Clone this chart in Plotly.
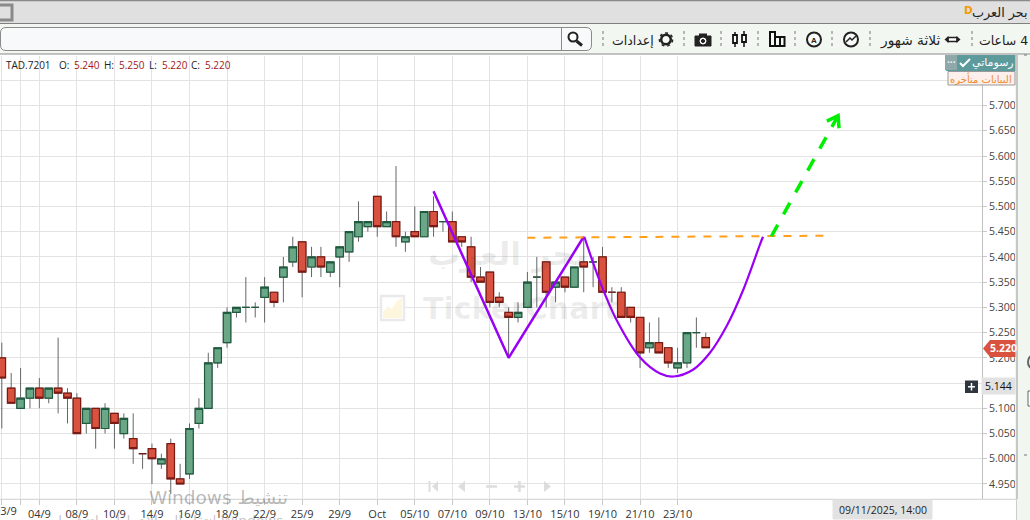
import plotly.graph_objects as go

# ---- data ----
opens = [5.20,5.14,5.10,5.12,5.14,5.12,5.14,5.13,5.12,5.07,5.10,5.06,5.09,5.05,5.04,5.01,5.02,4.99,5.03,4.96,
         4.97,5.07,5.10,5.19,5.23,5.29,5.30,5.30,5.32,5.33,5.36,5.39,5.43,5.38,5.40,5.37,5.40,5.41,5.44,5.46,
         5.52,5.46,5.47,5.43,5.45,5.44,5.49,5.47,5.47,5.44,5.42,5.36,5.37,5.32,5.29,5.28,5.30,5.36,5.39,5.34,
         5.36,5.34,5.39,5.39,5.40,5.33,5.33,5.30,5.28,5.22,5.23,5.22,5.18,5.19,5.25,5.24]
highs = [5.23,5.17,5.18,5.14,5.16,5.14,5.24,5.14,5.13,5.10,5.10,5.11,5.09,5.09,5.09,5.01,5.03,5.01,5.04,4.99,
         5.07,5.12,5.21,5.22,5.30,5.30,5.36,5.31,5.36,5.33,5.40,5.44,5.43,5.42,5.42,5.39,5.42,5.45,5.51,5.47,
         5.52,5.49,5.58,5.45,5.50,5.49,5.52,5.47,5.49,5.44,5.44,5.38,5.37,5.33,5.30,5.31,5.37,5.40,5.39,5.35,
         5.36,5.38,5.44,5.40,5.42,5.34,5.34,5.30,5.28,5.27,5.28,5.22,5.22,5.25,5.28,5.25]
lows = [5.06,5.11,5.10,5.10,5.10,5.11,5.09,5.07,5.05,5.05,5.02,5.05,5.02,5.04,4.99,4.98,4.95,4.98,4.93,4.95,
        4.96,5.06,5.10,5.18,5.22,5.28,5.27,5.28,5.27,5.30,5.31,5.38,5.32,5.36,5.36,5.36,5.34,5.39,5.43,5.45,
        5.44,5.46,5.42,5.41,5.44,5.44,5.44,5.45,5.43,5.42,5.35,5.35,5.30,5.30,5.20,5.27,5.30,5.30,5.30,5.31,
        5.33,5.34,5.33,5.34,5.33,5.31,5.28,5.27,5.18,5.21,5.21,5.18,5.17,5.18,5.22,5.22]
closes = [5.16,5.11,5.12,5.14,5.12,5.14,5.13,5.12,5.05,5.10,5.06,5.10,5.07,5.08,5.02,5.01,5.00,5.00,4.96,4.95,
          5.06,5.10,5.19,5.22,5.29,5.30,5.30,5.30,5.34,5.31,5.38,5.42,5.37,5.40,5.38,5.39,5.42,5.45,5.47,5.47,
          5.46,5.47,5.44,5.44,5.44,5.49,5.46,5.47,5.43,5.43,5.36,5.35,5.31,5.31,5.28,5.29,5.35,5.36,5.33,5.35,
          5.34,5.38,5.38,5.39,5.33,5.33,5.28,5.28,5.21,5.23,5.21,5.19,5.19,5.25,5.25,5.22]
bar_index = list(range(len(opens)))

tick_index = [0,2,4,8,12,16,20,24,28,32,36,40,44,48,52,56,60,64,68,72]
tick_labels = ["","","04/9","08/9","10/9","14/9","16/9","18/9","22/9","25/9","29/9","Oct",
               "05/10","07/10","09/10","13/10","15/10","19/10","21/10","23/10"]
price_ticks = [4.95,5.00,5.05,5.10,5.15,5.20,5.25,5.30,5.35,5.40,5.45,5.50,5.55,5.60,5.65,5.70,5.75]

v_x = [46,54,62]
v_y = [5.53,5.20,5.44]
cup_x = [62.06,63.73,65.5,68.03,70.13,71.55,73.68,75.45,77.23,79.0,80.8,81.1]
cup_y = [5.44,5.351,5.275,5.20,5.169,5.163,5.177,5.21,5.263,5.335,5.426,5.44]
neck_x = [56,87.7]
neck_y = [5.438,5.442]
target_x = [82,89.1]
target_y = [5.441,5.68]
head_x = [87.9,89.1,89.2]
head_y = [5.669,5.68,5.655]

# ---- styling ----
GREEN_F, GREEN_L = "#6aa786", "#1f5a3f"
RED_F, RED_L = "#d9523f", "#7a1a12"
PL, PR, PT, PB = 0, 982, 56, 499
FONT = "Open Sans"
ARF = "DejaVu Sans"

def px(x): return (x - PL) / (PR - PL)
def py(y): return (PB - y) / (PB - PT)

shapes, notes = [], []

def rect(x0, y0, x1, y1, fill="rgba(0,0,0,0)", line=None, w=1):
    shapes.append(dict(type="rect", xref="paper", yref="paper", x0=px(x0), x1=px(x1), y0=py(y0), y1=py(y1),
                       fillcolor=fill, line=dict(color=line or "rgba(0,0,0,0)", width=w if line else 0)))

def seg(x0, y0, x1, y1, color, w=1, dash="solid"):
    shapes.append(dict(type="line", xref="paper", yref="paper", x0=px(x0), x1=px(x1), y0=py(y0), y1=py(y1),
                       line=dict(color=color, width=w, dash=dash)))

def circ(cx, cy, r, fill="rgba(0,0,0,0)", line="#222", w=2, dash="solid"):
    shapes.append(dict(type="circle", xref="paper", yref="paper", x0=px(cx-r), x1=px(cx+r), y0=py(cy+r), y1=py(cy-r),
                       fillcolor=fill, line=dict(color=line, width=w, dash=dash)))

def poly(pts, fill="rgba(0,0,0,0)", line=None, w=1, close=True):
    d = "M" + " L".join(f"{px(a):.5f},{py(b):.5f}" for a, b in pts) + (" Z" if close else "")
    shapes.append(dict(type="path", xref="paper", yref="paper", path=d, fillcolor=fill,
                       line=dict(color=line or "rgba(0,0,0,0)", width=w if line else 0)))

def text(x, y, s, size=11, color="#222", anchor="center", family=FONT, bold=False):
    notes.append(dict(xref="paper", yref="paper", x=px(x), y=py(y), text=f"<b>{s}</b>" if bold else s,
                      showarrow=False, xanchor=anchor, yanchor="middle", borderpad=0, borderwidth=0,
                      font=dict(size=size, color=color, family=family)))

# top chrome
rect(0, 0, 1030, 24, "#e0e0e0")
seg(0, 0.5, 1030, 0.5, "#8a8a8a", 1.5)
seg(0, 23.5, 1030, 23.5, "#808080", 1)
rect(0, 24, 1030, 54, "#f3f7f1")
seg(0, 54, 1030, 54, "#888888", 1)
rect(-4, 5, 12, 20, line="#8a8a8a", w=3)
text(1028, 13, "بحر العرب", 12.8, "#222", "right", ARF)
text(968.5, 10, "D", 10.5, "#f59a00", "center", ARF, True)

# search box
shapes.append(dict(type="path", xref="paper", yref="paper", fillcolor="#f8f9fa", line=dict(color="#8a8a8a", width=1),
    path=f"M{px(6)},{py(27.5)} L{px(586)},{py(27.5)} Q{px(591.5)},{py(27.5)} {px(591.5)},{py(33)} L{px(591.5)},{py(45)} "
         f"Q{px(591.5)},{py(50.5)} {px(586)},{py(50.5)} L{px(6)},{py(50.5)} Q{px(0.5)},{py(50.5)} {px(0.5)},{py(45)} "
         f"L{px(0.5)},{py(33)} Q{px(0.5)},{py(27.5)} {px(6)},{py(27.5)} Z"))
seg(561.5, 28, 561.5, 50, "#8a8a8a", 1)
circ(573, 37, 4.5, "#ffffff", "#222", 2)
seg(576.5, 41, 582, 45.5, "#222", 3)

# toolbar separators
for sx in (972, 870, 832, 795, 758, 721, 684, 603):
    seg(sx, 31, sx, 49, "#777777", 1, "dot")

# toolbar items
text(1028, 40, "\u200f4 ساعات", 12.5, "#222", "right", ARF)
text(941, 40, "ثلاثة شهور", 13.8, "#222", "right", ARF)
rect(948, 37.5, 957, 41.5, "#ffffff", "#222", 1.5)
poly([(944.5, 39.5), (948.5, 36), (948.5, 43)], "#222")
poly([(960.5, 39.5), (956.5, 36), (956.5, 43)], "#222")
circ(851, 39.5, 7, "#f8faf7", "#222", 2)
poly([(846, 42), (850, 38), (852, 40), (856, 36)], line="#222", w=1.5, close=False)
circ(814, 39.5, 7, "#f8faf7", "#222", 2)
text(814, 40, "A", 8, "#222", "center", "Liberation Sans", True)
rect(770, 32, 775, 46, "#f8faf7", "#111", 2)
rect(775, 37, 780, 46, "#f8faf7", "#111", 2)
rect(780, 37, 784.5, 46, "#f8faf7", "#111", 2)
seg(735, 32, 735, 47, "#111", 1.5)
rect(733, 35, 737, 43, "#f8faf7", "#111", 1.8)
seg(744, 31, 744, 47, "#111", 1.5)
rect(742, 35, 746, 42, "#f8faf7", "#111", 1.8)
rect(695, 36, 711, 46, "#222", "#222", 1)
rect(699, 33.5, 707, 37, "#222")
circ(703, 41, 3, "#ffffff", "#ffffff", 1)
circ(703, 41, 1.6, "#222", "#222", 1)
circ(666, 39.5, 4.8, "#f8faf7", "#222", 2.5)
circ(666, 39.5, 6.6, line="#222", w=1.5, dash="dot")
text(654, 40, "إعدادات", 12.5, "#222", "right", ARF)

# right side panel
rect(1015, 55, 1030, 499, "#f2f6f0")
seg(1017, 55, 1017, 520, "#9a9a9a", 1)
rect(1017, 499, 1030, 520, "#f2f6f0")
seg(0, 499.3, 1016, 499.3, "#cfcfcf", 1)
seg(1024, 55, 1030, 55, "#777777", 1, "dot")
seg(1024, 455, 1030, 455, "#777777", 1, "dot")
shapes.append(dict(type="circle", xref="paper", yref="paper", x0=px(1028), x1=px(1036), y0=py(368), y1=py(356),
                   fillcolor="rgba(0,0,0,0)", line=dict(color="#666666", width=2)))
rect(1028, 391, 1036, 406, "#ffffff", "#666666", 1)

# "my drawings" tag and delayed data tag
rect(946, 55, 1015.5, 71, "#5c9a9c")
rect(945, 55, 957, 70, "#8fa9aa")
text(951, 62, "···", 10, "#f0f0f0", "center", FONT, True)
poly([(960, 63), (963, 66), (970, 59)], line="#ffffff", w=2, close=False)
text(1014, 62.5, "رسوماتي", 11, "#ffffff", "right", ARF)
rect(948, 71.5, 1015, 85, "#fdf0ec", "#999999", 1)
text(1012, 78.5, "البيانات متأخره", 10, "#ee8a2a", "right", ARF)

# OHLC header
for hx, s, col in [(6, "TAD.7201", "#222"), (59, "O:", "#222"), (74, "5.240", "#a01818"), (104, "H:", "#222"),
                   (119, "5.250", "#a01818"), (149, "L:", "#222"), (162, "5.220", "#a01818"),
                   (191, "C:", "#222"), (205, "5.220", "#a01818")]:
    text(hx, 64.5, s, 10, col, "left")

# first date label, cut by the left edge of the page
text(5, 510, "03/9", 11, "#333333")

# watermarks
text(507, 254, "بحر العرب", 32, "rgba(60,60,60,0.10)", "center", ARF, True)
text(521, 308, "TickerChart", 30, "rgba(60,60,60,0.09)", "center", "DejaVu Sans", True)
rect(381, 296, 404, 320, "#ffffff", "#eaeaea", 2.5)
poly([(383, 318), (383, 312), (388, 306), (392, 309), (397, 301), (402, 298), (402, 318)], "#fdf6dc")

# price badges
poly([(983, 348.5), (990, 340), (1015.5, 340), (1015.5, 357), (990, 357)], RED_F)
text(1003, 348, "5.220", 10.5, "#ffffff", "center", FONT, True)
rect(982, 378, 1015, 394, "#e2e2e2", "#e2e2e2", 1)
text(998.5, 386, "5.144", 10.5, "#111", "center")
rect(965, 380.5, 978, 393, "#2f3640")
seg(971.5, 383, 971.5, 390.5, "#ffffff", 1.5)
seg(968, 386.8, 975, 386.8, "#ffffff", 1.5)
rect(833, 500, 932, 519, "#e2e2e2", "#e2e2e2", 1)
text(882.5, 509.5, "09/11/2025, 14:00", 10.5, "#222", "center")

# pan / zoom controls
NAV = "#dddddd"
seg(429.5, 481, 429.5, 492, NAV, 2)
poly([(432, 486.5), (438, 481), (438, 492)], NAV)
poly([(458, 486.5), (465, 481), (465, 492)], NAV)
seg(486, 486.5, 497, 486.5, NAV, 2.5)
seg(514, 486.5, 525, 486.5, NAV, 2.5)
seg(519.5, 481, 519.5, 492, NAV, 2.5)
poly([(551, 486.5), (544, 481), (544, 492)], NAV)

# OS activation overlay
text(218, 497, "Windows تنشيط", 18.5, "rgba(90,90,90,0.42)", "center", ARF)
text(172, 521, "\u200fانتقل إلى الإعدادات لتنشيط Windows.", 14, "rgba(90,90,90,0.35)", "center", ARF)

fig = go.Figure()
# wicks
fig.add_trace(go.Candlestick(x=bar_index, open=opens, high=highs, low=lows, close=closes,
    increasing=dict(line=dict(color="#666666", width=1), fillcolor="rgba(0,0,0,0)"),
    decreasing=dict(line=dict(color="#666666", width=1), fillcolor="rgba(0,0,0,0)"),
    whiskerwidth=0, hoverinfo="skip", showlegend=False))
# bodies
fig.add_trace(go.Candlestick(x=bar_index, open=opens, close=closes,
    high=[max(a, b) for a, b in zip(opens, closes)], low=[min(a, b) for a, b in zip(opens, closes)],
    increasing=dict(line=dict(color=GREEN_L, width=1.2), fillcolor=GREEN_F),
    decreasing=dict(line=dict(color=RED_L, width=1.2), fillcolor=RED_F),
    whiskerwidth=0, hoverinfo="skip", showlegend=False))
# drawings
PURPLE = "#9a00f5"
fig.add_trace(go.Scatter(x=v_x, y=v_y, mode="lines", line=dict(color=PURPLE, width=2.5), hoverinfo="skip", showlegend=False))
fig.add_trace(go.Scatter(x=cup_x, y=cup_y, mode="lines", line=dict(color=PURPLE, width=2.2, shape="spline", smoothing=1),
                         hoverinfo="skip", showlegend=False))
fig.add_trace(go.Scatter(x=neck_x, y=neck_y, mode="lines", line=dict(color="#ff9f1a", width=2, dash="8px,8px"),
                         hoverinfo="skip", showlegend=False))
fig.add_trace(go.Scatter(x=target_x, y=target_y, mode="lines", line=dict(color="#00ee00", width=3.5, dash="13px,12px"),
                         hoverinfo="skip", showlegend=False))
fig.add_trace(go.Scatter(x=head_x, y=head_y, mode="lines", line=dict(color="#00ee00", width=3.5), hoverinfo="skip", showlegend=False))

spacing = 9.386
left_idx = (PL - 1.8) / spacing
right_idx = (PR - 1.8) / spacing
fig.update_layout(
    width=1030, height=520, autosize=False,
    margin=dict(l=PL, r=1030 - PR, t=PT, b=520 - PB, pad=0),
    paper_bgcolor="#ffffff", plot_bgcolor="#ffffff",
    font=dict(family=FONT, size=11, color="#444444"),
    showlegend=False, boxgap=0.2, boxgroupgap=0,
    xaxis=dict(range=[left_idx, right_idx], rangeslider=dict(visible=False), tickmode="array",
               tickvals=tick_index, ticktext=tick_labels, showgrid=True, gridcolor="#e3e3e3", gridwidth=1,
               zeroline=False, ticks="outside", ticklen=5, tickcolor="#c8c8c8", showline=False,
               tickangle=0, tickfont=dict(size=11, color="#333333", family=FONT), fixedrange=True),
    yaxis=dict(range=[5.6 - (PB - 156) / 504.6, 5.6 + (156 - PT) / 504.6], side="right", tickmode="array",
               tickvals=price_ticks, ticktext=[f"{p:.3f}" for p in price_ticks], showgrid=True,
               gridcolor="#e3e3e3", gridwidth=1, zeroline=False, ticks="outside", ticklen=4, tickcolor="#c8c8c8",
               showline=True, linecolor="#c0c0c0", linewidth=1,
               tickfont=dict(size=10.5, color="#444444", family=FONT), fixedrange=True),
    shapes=shapes, annotations=notes,
)
fig.write_html("out.html", config={"displayModeBar": False},
               post_script="document.body.style.margin='0';document.body.style.overflow='hidden';")
